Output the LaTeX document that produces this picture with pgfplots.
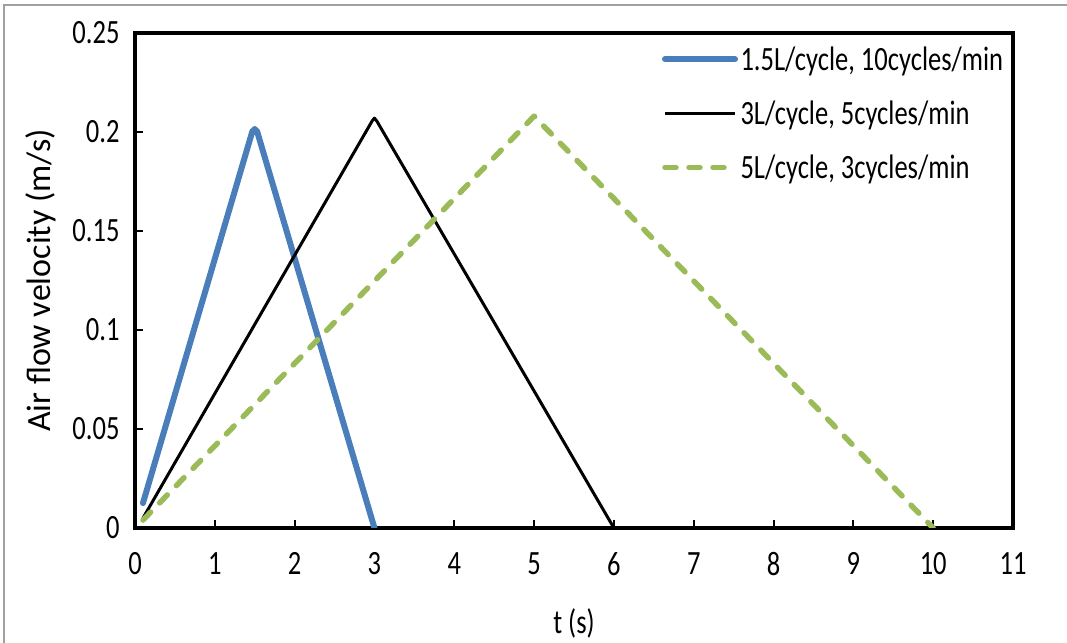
\documentclass[border=0pt]{standalone}
\usepackage{pgfplots}
\pgfplotsset{compat=1.18}
\usepackage{fontspec}
\setmainfont{Carlito}[FakeStretch=0.78]
\newfontfamily\ylabfont{Carlito}
\definecolor{cblue}{HTML}{4A7EBB}
\definecolor{cgreen}{HTML}{9BBB59}
\definecolor{cframe}{HTML}{A0A0A0}
\begin{document}
\begin{tikzpicture}[font=\fontsize{34bp}{40bp}\selectfont]
\path[use as bounding box] (0,0) rectangle (1067bp,643bp);
\draw[cframe, line width=1.5bp] (4bp,0) -- (4bp,638bp) -- (1067bp,638bp);
\begin{axis}[
  at={(135bp,115bp)}, anchor=south west,
  scale only axis, width=878bp, height=495bp,
  xmin=0, xmax=11, ymin=0, ymax=0.25,
  xtick={0,1,2,3,4,5,6,7,8,9,10,11},
  ytick={0,0.05,0.1,0.15,0.2,0.25},
  yticklabels={0,0.05,0.1,0.15,0.2,0.25},
  /pgf/number format/assume math mode=true,
  tick align=inside, xtick pos=bottom, ytick pos=left,
  major tick length=8bp,
  tick style={line width=2bp, black},
  axis line style={line width=3.5bp, black},
  xticklabel style={yshift=-21bp},
  yticklabel style={xshift=-12bp},
  xlabel={t (s)}, ylabel={\ylabfont Air flow velocity (m/s)},
  every axis x label/.style={at={(axis description cs:0.5,-0.192)}, anchor=center},
  every axis y label/.style={at={(axis description cs:-0.107,0.5)}, anchor=center, rotate=90},
  legend style={at={(axis cs:6.6,0.2445)}, anchor=north west, draw=none, fill=none,
     inner sep=0pt, row sep=24bp, nodes={inner sep=2.5bp}},
  legend cell align=left,
  legend image code/.code={\draw[#1] (0bp,0bp) -- (70bp,0bp);},
]
\addplot[cblue, line width=6bp, line cap=round, line join=round] coordinates {
(0.1,0.0126) (1.47,0.2003) (1.5,0.2015) (1.53,0.2003) (3.0,0.0)};
\addlegendentry{1.5L/cycle, 10cycles/min}
\addplot[black, line width=3bp, line join=round] coordinates {
(0.1,0.005) (2.97,0.2055) (3.0,0.207) (3.03,0.2055) (6.0,0.0)};
\addlegendentry{3L/cycle, 5cycles/min}
\addplot[cgreen, line width=5.5bp, line cap=round, line join=round, dash pattern=on 11bp off 13bp] coordinates {
(0.1,0.004) (5.0,0.208) (10.0,0.0)};
\addlegendentry{5L/cycle, 3cycles/min}
\end{axis}
\end{tikzpicture}
\end{document}
